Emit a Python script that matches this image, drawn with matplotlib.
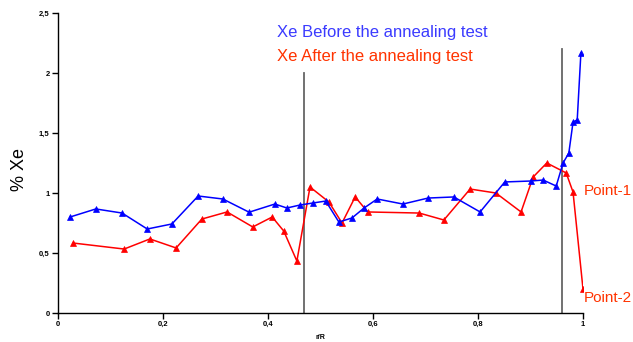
import matplotlib
matplotlib.use("Agg")
import matplotlib.pyplot as plt
from matplotlib.ticker import FuncFormatter

plt.rcParams['font.family'] = ['Liberation Sans', 'DejaVu Sans']

# Before annealing (blue)
before_x = [0.023, 0.072, 0.122, 0.170, 0.217, 0.267, 0.314, 0.364, 0.413, 0.436,
            0.461, 0.486, 0.510, 0.535, 0.560, 0.583, 0.608, 0.657, 0.705, 0.754,
            0.804, 0.851, 0.901, 0.924, 0.949, 0.962, 0.973, 0.981, 0.989, 0.996]
before_y = [0.80, 0.867, 0.833, 0.70, 0.742, 0.975, 0.95, 0.84, 0.908, 0.875,
            0.90, 0.917, 0.933, 0.758, 0.792, 0.875, 0.95, 0.908, 0.958, 0.967,
            0.842, 1.092, 1.10, 1.108, 1.058, 1.25, 1.333, 1.59, 1.61, 2.167]

# After annealing (red)
after_x = [0.029, 0.126, 0.175, 0.225, 0.274, 0.322, 0.371, 0.408, 0.430, 0.455,
           0.480, 0.516, 0.541, 0.566, 0.590, 0.688, 0.735, 0.785, 0.834, 0.882,
           0.905, 0.931, 0.968, 0.981, 1.000]
after_y = [0.583, 0.533, 0.617, 0.542, 0.783, 0.842, 0.717, 0.80, 0.683, 0.433,
           1.05, 0.925, 0.75, 0.967, 0.842, 0.833, 0.775, 1.033, 1.0, 0.842,
           1.133, 1.25, 1.167, 1.008, 0.2]

vlines_x = [0.469, 0.960]
vlines_top = [2.0, 2.2]

xticks = [0, 0.2, 0.4, 0.6, 0.8, 1.0]
yticks = [0, 0.5, 1.0, 1.5, 2.0, 2.5]

fig = plt.figure(figsize=(6.33, 3.42), dpi=100)
ax = fig.add_axes([58/633, 1-313/342, (583-58)/633, (313-13)/342])

for vx, vt in zip(vlines_x, vlines_top):
    ax.plot([vx, vx], [0, vt], color='#666666', lw=1.3, zorder=1)

ax.plot(before_x, before_y, color='#0000ff', lw=1.1, marker='^', ms=4.5,
        markeredgewidth=0.5, zorder=3)
ax.plot(after_x, after_y, color='#ff0000', lw=1.1, marker='^', ms=4.5,
        markeredgewidth=0.5, zorder=2)

ax.set_xlim(0, 1)
ax.set_ylim(0, 2.5)
ax.set_xticks(xticks)
ax.set_yticks(yticks)

fmt = FuncFormatter(lambda v, p: ('%g' % v).replace('.', ','))
ax.xaxis.set_major_formatter(fmt)
ax.yaxis.set_major_formatter(fmt)
for lab in ax.get_xticklabels() + ax.get_yticklabels():
    lab.set_fontsize(5.5)
    lab.set_fontweight('bold')
ax.tick_params(direction='out', length=4, width=1, pad=2)

ax.spines['top'].set_visible(False)
ax.spines['right'].set_visible(False)
ax.spines['left'].set_linewidth(1)
ax.spines['bottom'].set_linewidth(1)

ax.set_ylabel('% Xe', fontsize=13)
ax.yaxis.set_label_coords(-30/525, 0.477)
ax.set_xlabel('r/R', fontsize=5, fontweight='bold', labelpad=4)

fig.text(277/633, 1-32/342, 'Xe Before the annealing test', color='#3b3bff',
         fontsize=12, va='center', ha='left')
fig.text(277/633, 1-56/342, 'Xe After the annealing test', color='#ff3300',
         fontsize=12, va='center', ha='left')
fig.text(632/633, 1-191/342, 'Point-1', color='#ff3300', fontsize=11,
         va='center', ha='right')
fig.text(632/633, 1-298/342, 'Point-2', color='#ff3300', fontsize=11,
         va='center', ha='right')

fig.savefig('out.png', dpi=100)
